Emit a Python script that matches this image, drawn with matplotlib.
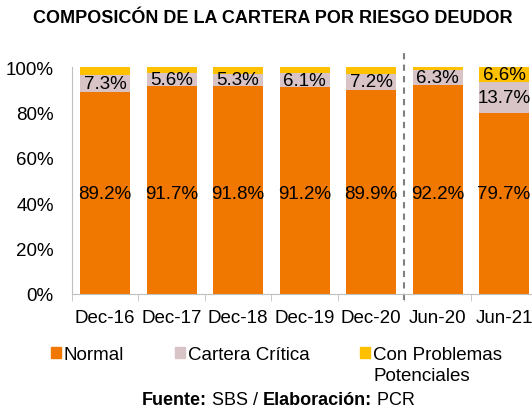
import numpy as np
import matplotlib
matplotlib.use("Agg")
from matplotlib import pyplot as plt
from matplotlib.patches import Patch

plt.rcParams['font.family'] = ['Liberation Sans', 'DejaVu Sans']

periods = ['Dec-16', 'Dec-17', 'Dec-18', 'Dec-19', 'Dec-20', 'Jun-20', 'Jun-21']
normal = [89.2, 91.7, 91.8, 91.2, 89.9, 92.2, 79.7]
critica = [7.3, 5.6, 5.3, 6.1, 7.2, 6.3, 13.7]
potenciales = [3.5, 2.7, 2.9, 2.7, 2.9, 1.5, 6.6]

c_normal = '#F07800'
c_critica = '#D8C4C6'
c_pot = '#FFC000'

fig = plt.figure(figsize=(5.32, 4.10), dpi=100)
ax = fig.add_axes([0.135, 0.2805, 0.875, 0.5535])

x = np.arange(len(periods))
n = np.array(normal) / 100
c = np.array(critica) / 100
p = np.array(potenciales) / 100
w = 0.75

ax.bar(x, n, w, color=c_normal)
ax.bar(x, c, w, bottom=n, color=c_critica)
ax.bar(x, p, w, bottom=n + c, color=c_pot)

fs = 13.5
for i in range(len(x)):
    ax.text(x[i], 0.445, f'{normal[i]:.1f}%', ha='center', va='center', fontsize=fs)
    ax.text(x[i], n[i] + c[i] / 2, f'{critica[i]:.1f}%', ha='center', va='center', fontsize=fs)
# only last bar shows the potential problems label
ax.text(x[-1], n[-1] + c[-1] + p[-1] / 2, f'{potenciales[-1]:.1f}%', ha='center',
        va='center', fontsize=fs)

ax.plot([4.5, 4.5], [-0.025, 1.08], ls=(0, (3, 2.5)), color='#808080', lw=1.5, clip_on=False)

ax.set_xlim(-0.5, 6.5)
ax.set_ylim(0, 1)
ax.set_yticks(np.arange(0, 1.01, 0.2))
ax.set_yticklabels([f'{int(round(v * 100))}%' for v in np.arange(0, 1.01, 0.2)], fontsize=fs)
ax.set_xticks(x)
ax.set_xticklabels(periods, fontsize=fs)
ax.set_xticks(np.arange(-0.5, 6.6, 1), minor=True)
ax.tick_params(axis='x', which='major', length=0, pad=11)
ax.tick_params(axis='x', which='minor', length=5, color='#BFBFBF')
ax.tick_params(axis='y', length=0, pad=13)
for s in ['top', 'right']:
    ax.spines[s].set_visible(False)
ax.spines['left'].set_color('#BFBFBF')
ax.spines['bottom'].set_color('#BFBFBF')

fig.text(0.512, 0.955, 'COMPOSICÓN DE LA CARTERA POR RIESGO DEUDOR', ha='center',
         va='center', fontsize=13, fontweight='bold')

handles = [Patch(color=c_normal), Patch(color=c_critica), Patch(color=c_pot)]
leg = fig.legend(handles, ['Normal', 'Cartera Crítica', 'Con Problemas'],
                 loc='center left', bbox_to_anchor=(0.095, 0.132), ncol=3, frameon=False,
                 fontsize=fs, handlelength=0.55, handleheight=0.55, handletextpad=0.15,
                 columnspacing=2.7, borderpad=0, borderaxespad=0)

fig.canvas.draw()
r = fig.canvas.get_renderer()
# second line of the last legend label
bb_con = leg.get_texts()[2].get_window_extent(r)
fig.text(bb_con.x0 / 532, 1 - 377 / 410, 'Potenciales', fontsize=fs, va='center')

# footnote with bold parts
parts = [('Fuente:', 'bold'), (' SBS / ', 'normal'), ('Elaboración:', 'bold'), (' PCR', 'normal')]
texts = []
total = 0
for s, wgt in parts:
    t = fig.text(0, 0.022, s, fontsize=13, fontweight=wgt, va='center')
    bb = t.get_window_extent(r)
    texts.append((t, bb.width))
    total += bb.width
xpos = 278.5 - total / 2
for t, wd in texts:
    t.set_x(xpos / 532)
    xpos += wd

fig.savefig('out.png', dpi=100)
